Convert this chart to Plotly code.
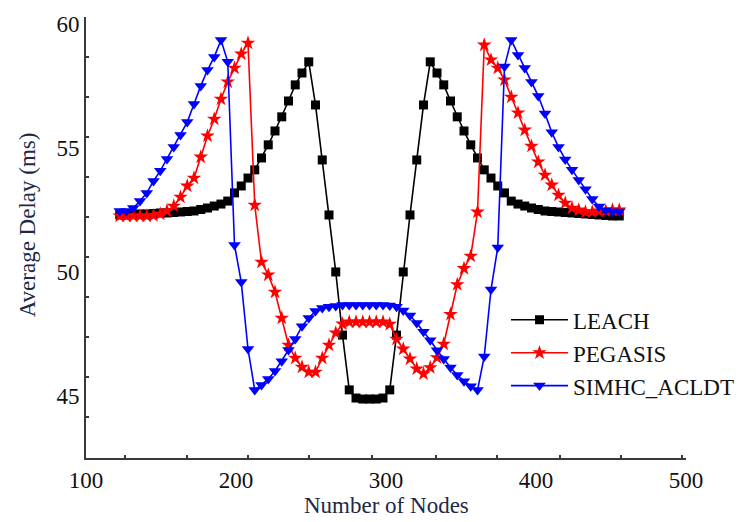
import plotly.graph_objects as go

# Number of nodes (x)
nodes = [122.5, 127, 131.5, 136, 140.5, 145, 149.5, 154, 158.5, 163,
         167.5, 172, 176.5, 181, 185.5, 190, 194.5, 199, 203.5, 208,
         212.5, 217, 221.5, 226, 230.5, 235, 239.5, 244, 248.5, 253,
         257.5, 262, 266.5, 271, 275.5, 280, 284.5, 289, 293.5, 298,
         302.5, 307, 311.5, 316, 320.5, 325, 329.5, 334, 338.5, 343,
         347.5, 352, 356.5, 361, 365.5, 370, 374.5, 379, 383.5, 388,
         392.5, 397, 401.5, 406, 410.5, 415, 419.5, 424, 428.5, 433,
         437.5, 442, 446.5, 451, 455.5]

leach = [52.31, 52.31, 52.33, 52.35, 52.35, 52.37, 52.39, 52.39, 52.41, 52.43,
         52.45, 52.47, 52.53, 52.59, 52.67, 52.75, 52.87, 53.20, 53.48, 53.80,
         54.13, 54.61, 55.14, 55.70, 56.27, 56.91, 57.56, 58.04, 58.49, 56.75,
         54.53, 52.31, 50.01, 47.46, 45.25, 44.92, 44.88, 44.88,
         44.88, 44.92, 45.25, 47.46, 50.01, 52.31, 54.53, 56.75, 58.49, 58.04,
         57.56, 56.91, 56.27, 55.70, 55.14, 54.61, 54.13, 53.80, 53.48, 53.20,
         52.87, 52.75, 52.67, 52.59, 52.53, 52.47, 52.45, 52.43, 52.41, 52.39,
         52.37, 52.35, 52.33, 52.31, 52.29, 52.27, 52.27]

pegasis = [52.27, 52.27, 52.27, 52.27, 52.27, 52.29, 52.35, 52.47, 52.67, 53.03,
           53.48, 53.80, 54.65, 55.50, 56.18, 56.99, 57.68, 58.24, 58.81, 59.25,
           52.71, 50.41, 49.89, 49.20, 48.15, 47.06, 46.53, 46.17, 45.97, 45.97,
           46.53, 47.06, 47.55, 47.91, 47.99, 47.99, 47.99, 47.99,
           47.99, 47.99, 47.90, 47.30, 46.90, 46.50, 46.10, 45.90, 46.15, 46.55,
           47.10, 48.30, 49.50, 50.15, 50.65, 52.43, 59.17, 58.57, 58.24, 57.76,
           57.07, 56.43, 55.74, 55.09, 54.45, 53.92, 53.52, 53.11, 52.79, 52.59,
           52.51, 52.43, 52.43, 52.47, 52.47, 52.51, 52.51]

simhc_acldt = [52.47, 52.47, 52.59, 52.87, 53.20, 53.68, 54.09, 54.57, 55.05, 55.54,
               56.06, 56.79, 57.52, 58.16, 58.69, 59.37, 58.49, 51.10, 49.60, 46.90,
               45.24, 45.45, 45.69, 46.01, 46.41, 46.86, 47.30, 47.82, 48.15, 48.43,
               48.55, 48.60, 48.64, 48.68, 48.68, 48.68, 48.68, 48.68,
               48.68, 48.68, 48.66, 48.60, 48.45, 48.25, 47.95, 47.60, 47.25, 46.85,
               46.50, 46.15, 45.85, 45.60, 45.40, 45.24, 46.60, 49.30, 51.00, 58.30,
               59.37, 58.77, 58.24, 57.68, 57.11, 56.40, 55.65, 55.05, 54.55, 54.13,
               53.72, 53.35, 52.95, 52.65, 52.50, 52.45, 52.45]

x_ticks = [100, 200, 300, 400, 500]
y_ticks = [45, 50, 55, 60]
# small tick dots along the axis lines (as drawn in the original)
x_minor = [126.3, 167.1, 207.9, 248.7, 290.7, 333.0, 373.8, 416.0, 456.7, 497.3]
y_minor = [58.69, 57.07, 55.46, 53.84, 52.23, 50.61, 49.00, 47.38, 45.77, 44.15]

FONT = "Liberation Serif, Times New Roman, serif"
AX = "#3a3a3a"

fig = go.Figure()
fig.add_trace(go.Scatter(
    x=nodes, y=leach, name="LEACH", mode="lines+markers",
    line=dict(color="#000000", width=1.6),
    marker=dict(symbol="square", size=9, color="#000000")))
fig.add_trace(go.Scatter(
    x=nodes, y=pegasis, name="PEGASIS", mode="lines+markers",
    line=dict(color="#ff0000", width=1.6),
    marker=dict(symbol="star", size=11, color="#ff0000")))
fig.add_trace(go.Scatter(
    x=nodes, y=simhc_acldt, name="SIMHC_ACLDT", mode="lines+markers",
    line=dict(color="#0000ff", width=1.6),
    marker=dict(symbol="triangle-down", size=11, color="#0000ff")))

axis_common = dict(showgrid=False, zeroline=False, showline=True,
                   linecolor=AX, linewidth=2, ticks="",
                   tickfont=dict(family=FONT, size=23, color="#111111"))

fig.update_layout(
    width=743, height=522,
    margin=dict(l=86, r=57, t=17, b=64, autoexpand=False),
    paper_bgcolor="white", plot_bgcolor="white",
    xaxis=dict(range=[100, 500], tickvals=x_ticks,
               minor=dict(tickvals=x_minor, ticks="inside", ticklen=3,
                          tickwidth=2, tickcolor=AX, showgrid=False),
               **axis_common),
    yaxis=dict(range=[42.5, 60.3], tickvals=y_ticks,
               minor=dict(tickvals=y_minor, ticks="inside", ticklen=3,
                          tickwidth=2, tickcolor=AX, showgrid=False),
               **axis_common),
    legend=dict(x=0.700, y=0.362, xanchor="left", yanchor="top",
                bgcolor="rgba(0,0,0,0)", itemwidth=57,
                font=dict(family=FONT, size=23, color="#111111")),
    annotations=[
        dict(text="Number of Nodes", xref="paper", yref="paper",
             x=0.5, y=-0.107, xanchor="center", yanchor="middle",
             showarrow=False, font=dict(family=FONT, size=23, color="#1c2a48")),
        dict(text="Average Delay (ms)", xref="paper", yref="paper",
             x=-0.098, y=0.528, xanchor="center", yanchor="middle",
             textangle=-90, showarrow=False,
             font=dict(family=FONT, size=23, color="#1c2a48")),
    ],
)

fig.write_html("out.html")
